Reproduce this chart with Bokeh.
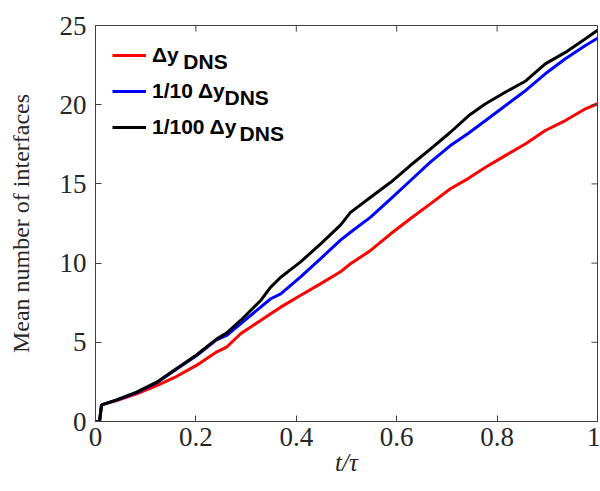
from bokeh.plotting import figure
from bokeh.models import Range1d, FixedTicker, Legend, LegendItem, Label
from bokeh.embed import file_html
from bokeh.resources import INLINE

# ---- data ----
t = [0.0, 0.008, 0.012, 0.042, 0.082, 0.122, 0.161, 0.201, 0.241, 0.261,
     0.289, 0.329, 0.349, 0.369, 0.408, 0.448, 0.488, 0.508, 0.548, 0.588,
     0.627, 0.667, 0.707, 0.743, 0.777, 0.817, 0.857, 0.896, 0.936, 0.976, 1.0]
n_fine100 = [0, 0, 1.05, 1.37, 1.85, 2.48, 3.33, 4.2, 5.2, 5.58,
             6.38, 7.64, 8.48, 9.11, 10.06, 11.2, 12.4, 13.2, 14.16, 15.1,
             16.16, 17.2, 18.26, 19.3, 20.06, 20.8, 21.5, 22.58, 23.3, 24.16, 24.7]
n_fine10 = [0, 0, 1.05, 1.35, 1.82, 2.45, 3.3, 4.15, 5.15, 5.43,
            6.17, 7.22, 7.75, 8.06, 9.11, 10.27, 11.45, 11.95, 12.9, 14.06,
            15.2, 16.37, 17.42, 18.2, 19.0, 19.95, 20.9, 21.95, 22.9, 23.74, 24.2]
n_dns = [0, 0, 1.05, 1.32, 1.75, 2.27, 2.84, 3.54, 4.38, 4.69,
         5.54, 6.38, 6.8, 7.22, 7.95, 8.69, 9.45, 9.96, 10.8, 11.85,
         12.8, 13.74, 14.69, 15.35, 16.05, 16.8, 17.53, 18.37, 19.0, 19.74, 20.06]

x_ticks = [0, 0.2, 0.4, 0.6, 0.8, 1]
x_tick_labels = ["0", "0.2", "0.4", "0.6", "0.8", "1"]
y_ticks = [0, 5, 10, 15, 20, 25]

legend_main = ["\u0394y", "1/10 \u0394y", "1/100 \u0394y"]
legend_sub = "DNS"

AX = "#404040"
TXT = "#262626"
SERIF = "Liberation Serif"
SANS = "Liberation Sans"

X0, X1, Y0, Y1 = 0, 1, 0, 25

p = figure(width=600, height=491, output_backend="svg", toolbar_location=None,
           x_range=Range1d(X0, X1), y_range=Range1d(Y0, Y1),
           min_border_left=95, min_border_right=3, min_border_top=25,
           min_border_bottom=70)
p.grid.visible = False
p.outline_line_color = AX
p.background_fill_color = "white"

r_red = p.line(t, n_dns, line_color="#ff0000", line_width=3)
r_blue = p.line(t, n_fine10, line_color="#0000ff", line_width=3)
r_black = p.line(t, n_fine100, line_color="#000000", line_width=3)

xa = p.xaxis[0]
xa.ticker = FixedTicker(ticks=x_ticks)
xa.major_label_overrides = {k: v for k, v in zip(x_ticks, x_tick_labels)}
ya = p.yaxis[0]
ya.ticker = FixedTicker(ticks=y_ticks)

for ax in (xa, ya):
    ax.axis_line_color = AX
    ax.major_tick_line_color = AX
    ax.major_tick_in = 6
    ax.major_tick_out = 0
    ax.minor_tick_line_color = None
    ax.major_label_text_font = SERIF
    ax.major_label_text_font_size = "27px"
    ax.major_label_text_color = TXT
    ax.axis_label_text_font = SERIF
    ax.axis_label_text_color = TXT
    ax.axis_label_text_font_style = "normal"

xa.axis_label = "t/\u03c4"
xa.axis_label_text_font_style = "italic"
xa.axis_label_text_font_size = "25px"
xa.major_label_standoff = 6
xa.axis_label_standoff = 0

ya.axis_label = "Mean number of interfaces"
ya.axis_label_text_font_size = "24px"
ya.major_label_standoff = 9
ya.axis_label_standoff = 23

# inward ticks on the top and right edges of the box, from the tick arrays
tick_len_y = (Y1 - Y0) * 6 / 396
tick_len_x = (X1 - X0) * 6 / 502
p.segment(x0=x_ticks, y0=[Y1] * len(x_ticks), x1=x_ticks,
          y1=[Y1 - tick_len_y] * len(x_ticks), line_color=AX, line_width=1)
p.segment(x0=[X1] * len(y_ticks), y0=y_ticks, x1=[X1 - tick_len_x] * len(y_ticks),
          y1=y_ticks, line_color=AX, line_width=1)

legend = Legend(items=[LegendItem(label=legend_main[0], renderers=[r_red]),
                       LegendItem(label=legend_main[1], renderers=[r_blue]),
                       LegendItem(label=legend_main[2], renderers=[r_black])],
                location="top_left", margin=7, padding=10,
                glyph_width=34, glyph_height=26, label_height=26, spacing=10,
                label_standoff=6, border_line_alpha=0, background_fill_alpha=0,
                label_text_font=SANS, label_text_font_style="bold",
                label_text_font_size="21px", label_text_color="black")
p.add_layout(legend)

# subscripts of the legend entries (data units)
sub_x = [0.175, 0.257, 0.287]
sub_y = [22.7, 20.44, 18.19]
for sx, sy in zip(sub_x, sub_y):
    p.add_layout(Label(x=sx, y=sy, text=legend_sub, text_font=SANS,
                       text_font_style="bold", text_font_size="21px",
                       text_baseline="alphabetic", text_color="black"))

open("out.html", "w").write(file_html(p, INLINE))
